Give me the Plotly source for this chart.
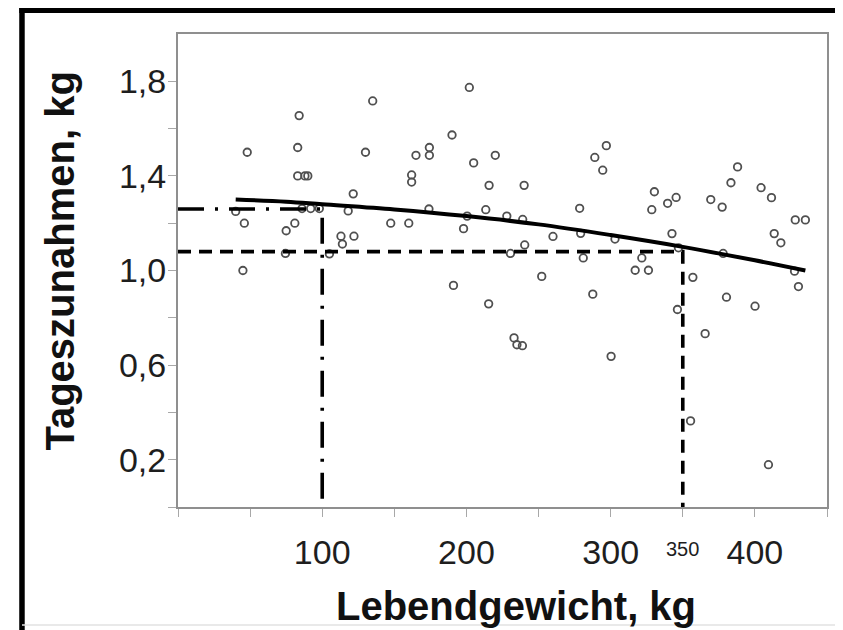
import plotly.graph_objects as go

# ---- data ----
weight_kg = [40, 46, 45, 48, 84, 83, 83, 88, 90, 81, 75, 74.5, 105, 113, 114, 122, 118, 121.5,
             135, 130, 147.5, 160, 162, 162, 165, 174.3, 174.3, 174, 190, 198, 200.5, 202, 205,
             215.7, 213.4, 220, 191, 215.4, 240, 228, 239, 260, 278.5, 279.2, 289, 297, 294.5,
             303, 240.4, 230.5, 281, 321.6, 317, 326.2, 252.2, 330.3, 328.5, 339.5, 345.4, 342.5,
             347, 357, 369.4, 377.3, 383.4, 388, 404.3, 411.5, 413.4, 418, 428, 435, 427.5, 378,
             287.6, 233, 235, 238.8, 300.3, 346.3, 365.5, 380.3, 400.1, 430.2, 355.4, 409.4,
             86, 92, 98]
daily_gain = [1.25, 1.20, 1.00, 1.50, 1.655, 1.52, 1.40, 1.40, 1.40, 1.20, 1.168, 1.072, 1.07,
              1.145, 1.112, 1.145, 1.252, 1.324, 1.717, 1.50, 1.20, 1.20, 1.404, 1.374, 1.487,
              1.52, 1.487, 1.26, 1.573, 1.177, 1.23, 1.774, 1.455, 1.36, 1.257, 1.487, 0.937,
              0.859, 1.36, 1.23, 1.216, 1.144, 1.263, 1.157, 1.478, 1.528, 1.424, 1.133, 1.108,
              1.072, 1.053, 1.053, 1.001, 1.001, 0.975, 1.333, 1.257, 1.284, 1.309, 1.156, 1.096,
              0.971, 1.30, 1.268, 1.371, 1.438, 1.35, 1.308, 1.156, 1.117, 1.214, 1.214, 0.997,
              1.072, 0.90, 0.715, 0.686, 0.682, 0.637, 0.835, 0.733, 0.887, 0.849, 0.932, 0.364,
              0.179, 1.262, 1.262, 1.262]

fit_x = [40, 75, 100, 150, 200, 250, 300, 350, 400, 435]
fit_y = [1.300, 1.291, 1.280, 1.258, 1.230, 1.195, 1.150, 1.100, 1.043, 1.000]

# reference readings: weight -> gain
ref_weight = [100, 350]
ref_gain = [1.26, 1.08]

x_tickvals = [0, 50, 100, 150, 200, 250, 300, 350, 400, 450]
x_ticktext = ["", "", "100", "", "200", "", "300", "", "400", ""]
y_tickvals = [0, 0.2, 0.4, 0.6, 0.8, 1.0, 1.2, 1.4, 1.6, 1.8]
y_ticktext = ["", "0,2", "", "0,6", "", "1,0", "", "1,4", "", "1,8"]

x_title = "Lebendgewicht, kg"
y_title = "Tageszunahmen, kg"
ref_label = "350"

FONT = "Liberation Sans, Arial, Helvetica, sans-serif"

fig = go.Figure()

fig.add_trace(go.Scatter(
    x=weight_kg, y=daily_gain, mode="markers",
    marker=dict(symbol="circle-open", size=7.5, color="#505050", line=dict(width=1.8, color="#505050")),
    showlegend=False, hoverinfo="skip"))

# dash-dot reading at 100 kg
fig.add_trace(go.Scatter(
    x=[0, ref_weight[0], ref_weight[0]], y=[ref_gain[0], ref_gain[0], 0],
    mode="lines", line=dict(color="black", width=3.6, dash="26px,11px,3px,11px"),
    showlegend=False, hoverinfo="skip"))
# dashed reading at 350 kg
fig.add_trace(go.Scatter(
    x=[0, ref_weight[1], ref_weight[1]], y=[ref_gain[1], ref_gain[1], 0],
    mode="lines", line=dict(color="black", width=3.6, dash="13px,8px"),
    showlegend=False, hoverinfo="skip"))

fig.add_trace(go.Scatter(
    x=fit_x, y=fit_y, mode="lines", line=dict(color="black", width=4, shape="spline"),
    showlegend=False, hoverinfo="skip"))

axis_common = dict(showgrid=False, zeroline=False, showline=True, linecolor="#8f8f8f",
                   linewidth=2, mirror=True, ticks="outside", ticklen=8, tickwidth=1,
                   tickcolor="#a8a8a8", tickfont=dict(family=FONT, size=34, color="#1e1e1e"))

fig.update_xaxes(range=[0, 450], tickmode="array", tickvals=x_tickvals, ticktext=x_ticktext,
                 ticklabelstandoff=6, **axis_common)
fig.update_yaxes(range=[0, 2.0], tickmode="array", tickvals=y_tickvals, ticktext=y_ticktext,
                 ticklabelstandoff=-5, **axis_common)

annotations = [
    dict(text="<b>" + x_title + "</b>", xref="paper", yref="paper", x=0.5208, y=-0.2093,
         xanchor="center", yanchor="middle", showarrow=False,
         font=dict(family=FONT, size=40, color="#111111")),
    dict(text="<b>" + y_title + "</b>", xref="paper", yref="paper", x=-0.1818, y=0.519,
         xanchor="center", yanchor="middle", textangle=-90, showarrow=False,
         font=dict(family=FONT, size=40, color="#111111")),
    dict(text=ref_label, xref="x", yref="paper", x=ref_weight[1], y=-0.0613, xanchor="center",
         yanchor="top", showarrow=False, font=dict(family=FONT, size=20, color="#1e1e1e")),
]

shapes = [
    # black outer frame (left and top)
    dict(type="line", xref="paper", yref="paper", x0=-0.2404, x1=-0.2404, y0=1.06, y1=-0.27,
         line=dict(color="black", width=5.5)),
    dict(type="line", xref="paper", yref="paper", x0=-0.2446, x1=1.03, y0=1.0495, y1=1.0495,
         line=dict(color="black", width=5)),
    # faint bottom / right edges
    dict(type="line", xref="paper", yref="paper", x0=-0.2404, x1=1.03, y0=-0.2495, y1=-0.2495,
         line=dict(color="#e2e2e2", width=1.5)),
    dict(type="line", xref="paper", yref="paper", x0=1.0185, x1=1.0185, y0=-0.2495, y1=-0.19,
         line=dict(color="#e2e2e2", width=1.5)),
]

# the page adds an 8px body margin, so the figure is 8px smaller and margins shifted by 8px
fig.update_layout(
    width=835, height=622,
    margin=dict(l=170, r=16, t=26, b=123),
    paper_bgcolor="white", plot_bgcolor="white",
    annotations=annotations, shapes=shapes,
    showlegend=False,
)

fig.write_html("out.html")
